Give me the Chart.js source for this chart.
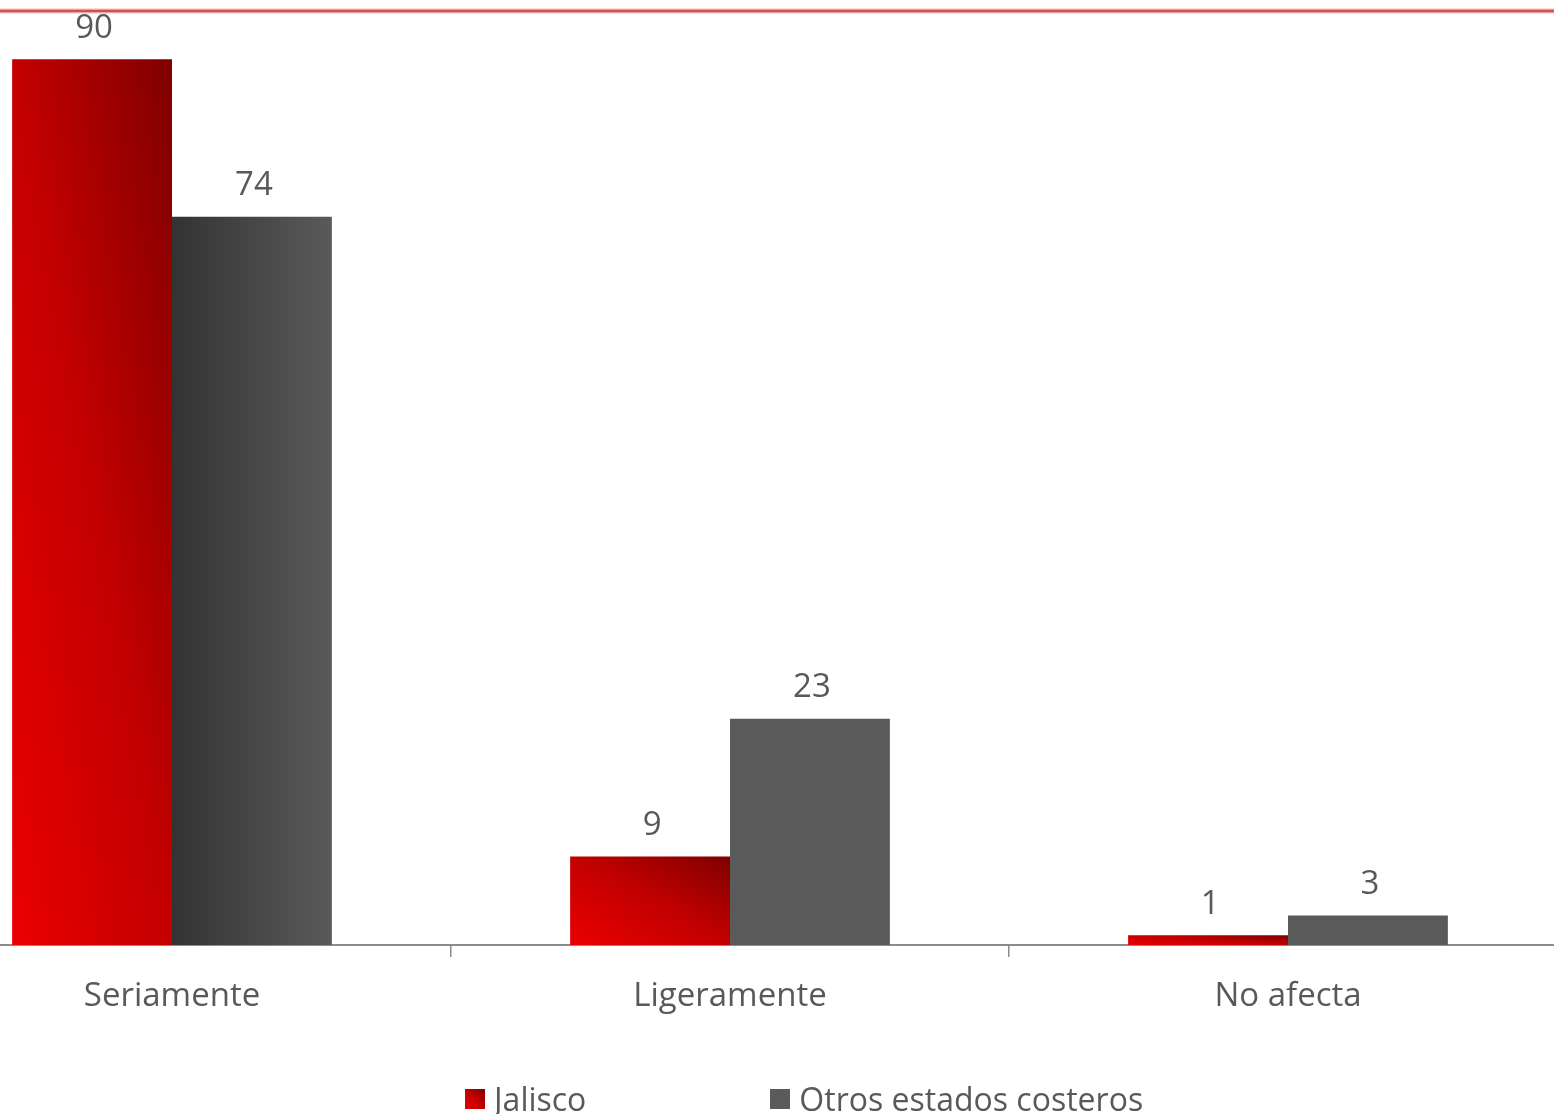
<!DOCTYPE html>
<html>
<head>
<meta charset="utf-8">
<script src="https://cdn.jsdelivr.net/npm/chart.js@4.4.0/dist/chart.umd.min.js"></script>
<style>
    body { margin: 0; width: 1554px; height: 1114px; overflow: hidden; background: #fff; position: relative; font-family: "Open Sans", sans-serif; }
    #chart { position: absolute; left: -107px; top: 0; }
    #legend { position: absolute; left: 465px; top: 1077px; display: flex; align-items: center; color: #595959; font-size: 32px; white-space: nowrap; }
    #legend .item { display: flex; align-items: center; }
    #legend .box { width: 20px; height: 20px; margin-right: 9px; }
</style>
</head>
<body>
<canvas id="chart" width="1674" height="1114"></canvas>
<div id="legend"></div>
<script>
const categories = ["Seriamente", "Ligeramente", "No afecta"];
const seriesNames = ["Jalisco", "Otros estados costeros"];
const jalisco = [90, 9, 1];
const otros = [74, 23, 3];

const TEXT = "#595959";
const FONT = "Open Sans";

// diagonal red ramp (bottom-left light, top-right dark)
function redGradient(ctx, l, t, r, b) {
    const w = r - l, h = b - t;
    const cx = (l + r) / 2, cy = (t + b) / 2;
    const k = (w * h) / (w * w + h * h);
    const g = ctx.createLinearGradient(cx - k * h, cy + k * w, cx + k * h, cy - k * w);
    g.addColorStop(0, "#ea0000");
    g.addColorStop(0.5, "#c30000");
    g.addColorStop(1, "#7f0000");
    return g;
}

function greyGradient(ctx, l, r, index) {
    if (index !== 0) return "#5a5a5a";
    const g = ctx.createLinearGradient(l, 0, r, 0);
    g.addColorStop(0, "#333333");
    g.addColorStop(1, "#5a5a5a");
    return g;
}

const barStyles = {
    id: "barStyles",
    beforeDatasetsDraw(chart) {
        const ctx = chart.ctx;
        chart.data.datasets.forEach((ds, di) => {
            chart.getDatasetMeta(di).data.forEach((bar, i) => {
                const l = bar.x - bar.width / 2, r = bar.x + bar.width / 2;
                const t = Math.min(bar.y, bar.base), b = Math.max(bar.y, bar.base);
                const fill = di === 0 ? redGradient(ctx, l, t, r, b) : greyGradient(ctx, l, r, i);
                // own copy per bar, options may be shared
                bar.options = Object.assign({}, bar.options, { backgroundColor: fill });
            });
        });
    },
    afterDatasetsDraw(chart) {
        const ctx = chart.ctx;
        ctx.save();
        ctx.fillStyle = TEXT;
        ctx.font = "33px '" + FONT + "'";
        ctx.textAlign = "center";
        ctx.textBaseline = "middle";
        chart.data.datasets.forEach((ds, di) => {
            chart.getDatasetMeta(di).data.forEach((bar, i) => {
                ctx.fillText(ds.data[i], bar.x + 2, bar.y - 31);
            });
        });
        ctx.restore();
    },
    afterDraw(chart) {
        // red rule across the top
        const ctx = chart.ctx;
        ctx.save();
        ctx.strokeStyle = "rgba(230,150,145,0.6)";
        ctx.lineWidth = 5;
        ctx.beginPath();
        ctx.moveTo(0, 11);
        ctx.lineTo(chart.width, 11);
        ctx.stroke();
        ctx.strokeStyle = "#d4504b";
        ctx.lineWidth = 2.5;
        ctx.beginPath();
        ctx.moveTo(0, 11);
        ctx.lineTo(chart.width, 11);
        ctx.stroke();
        ctx.restore();
    }
};

new Chart(document.getElementById("chart").getContext("2d"), {
    type: "bar",
    data: {
        labels: categories,
        datasets: [
            { label: seriesNames[0], data: jalisco, backgroundColor: (c) => "#c30000" },
            { label: seriesNames[1], data: otros, backgroundColor: (c) => "#5a5a5a" }
        ]
    },
    options: {
        responsive: false,
        animation: false,
        layout: { padding: { top: 10, left: 0, right: 0, bottom: 0 } },
        datasets: {
            bar: { categoryPercentage: 0.573, barPercentage: 1.0, borderWidth: 0 }
        },
        plugins: {
            legend: { display: false },
            tooltip: { enabled: false }
        },
        scales: {
            x: {
                afterFit(scale) { scale.height = 169; },
                border: { display: true, color: "#8c8c8c", width: 2 },
                grid: { drawOnChartArea: false, drawTicks: true, tickLength: 12, color: "#8c8c8c", lineWidth: 1.5 },
                ticks: { color: TEXT, font: { family: FONT, size: 33 }, padding: 20 }
            },
            y: {
                display: false,
                min: 0,
                max: 95
            }
        }
    },
    plugins: [barStyles]
});

// legend
const legend = document.getElementById("legend");
const boxStyles = [
    "linear-gradient(45deg, #ea0000, #c30000 50%, #7f0000)",
    "#5a5a5a"
];
const gaps = [0, 184];
seriesNames.forEach((name, i) => {
    const item = document.createElement("div");
    item.className = "item";
    item.style.marginLeft = gaps[i] + "px";
    item.innerHTML = `<span class="box" style="background:${boxStyles[i]}"></span><span>${name}</span>`;
    legend.appendChild(item);
});
</script>
</body>
</html>
